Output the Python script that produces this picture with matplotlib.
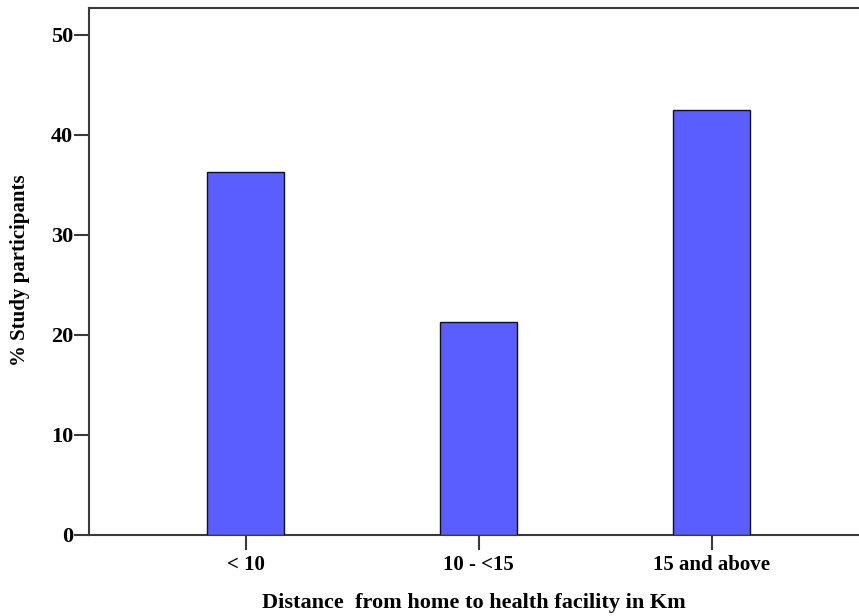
import matplotlib
matplotlib.use("Agg")
import matplotlib.pyplot as plt

categories = ["< 10", "10 - <15", "15 and above"]
values = [36.3, 21.3, 42.5]
yticks = [0, 10, 20, 30, 40, 50]

plt.rcParams['font.family'] = ['Liberation Serif', 'DejaVu Serif']
plt.rcParams['font.weight'] = 'bold'

fig = plt.figure(figsize=(8.59, 6.16), dpi=100)
ax = fig.add_axes([89/859, 81/616, 1 - 89/859, (535-8)/616])

x = list(range(len(categories)))
ax.bar(x, values, width=0.33, color='#5A5EFF', edgecolor='#111111', linewidth=1.0, zorder=3)

ax.set_xlim(-0.672, 2.633)
ax.set_ylim(0, 52.7)
ax.set_yticks(yticks)
ax.set_xticks(x)
ax.set_xticklabels(categories)

for s in ['left', 'bottom', 'top']:
    ax.spines[s].set_color('#3a3a3a')
    ax.spines[s].set_linewidth(1.5)
ax.spines['right'].set_visible(False)

ax.tick_params(axis='both', length=10.5, width=1.5, color='#3a3a3a')
ax.tick_params(axis='y', pad=1, labelsize=16)
ax.tick_params(axis='x', pad=4, labelsize=15)
for lab in ax.get_xticklabels() + ax.get_yticklabels():
    lab.set_fontweight('bold')

ax.set_xlabel("Distance  from home to health facility in Km", fontsize=16, fontweight='bold', labelpad=13)
fig.text(20/859, 1 - 270/616, "% Study participants", fontsize=15, fontweight='bold',
         rotation=90, ha='center', va='center')

fig.savefig("out.png", dpi=100)
